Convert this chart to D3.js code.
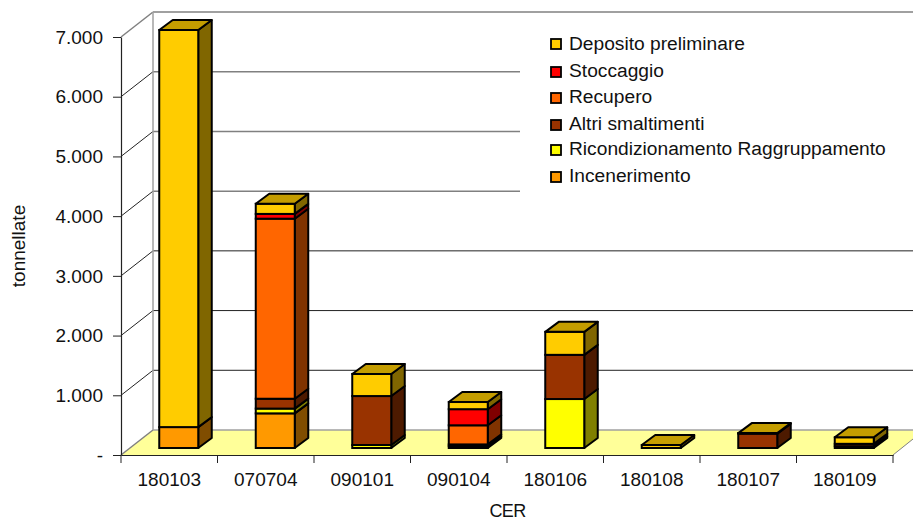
<!DOCTYPE html>
<html><head><meta charset="utf-8">
<script src="https://cdn.jsdelivr.net/npm/d3@7"></script>
<style>html,body{margin:0;padding:0;background:#fff}svg{display:block}text{font-family:"Liberation Sans",Arial,sans-serif;fill:#111}</style>
</head><body><svg id="c" width="913" height="521"></svg>
<script>
const categories = ["180103","070704","090101","090104","180106","180108","180107","180109"];
const seriesNames = ["Incenerimento","Ricondizionamento Raggruppamento","Altri smaltimenti","Recupero","Stoccaggio","Deposito preliminare"];
const incenerimento = [350,580,0,30,0,0,0,30];
const ricondizionamento = [0,80,50,0,820,0,0,0];
const altri = [0,165,820,30,740,0,240,40];
const recupero = [0,3015,0,320,0,0,0,0];
const stoccaggio = [0,80,0,270,0,0,0,0];
const deposito = [6650,170,370,120,385,50,10,110];
const seriesValues = [incenerimento,ricondizionamento,altri,recupero,stoccaggio,deposito];
const colors = ["#FF9900","#FFFF00","#993300","#FF6600","#FF0000","#FFCC00"];
const yTicks = [0,1000,2000,3000,4000,5000,6000,7000];
const legendOrder = [5,4,3,2,1,0];

const svg = d3.select("#c");
const x = d3.scaleBand().domain(categories).range([121,893]);
const y = d3.scaleLinear().domain([0,7000]).range([455,37]);
const wallDx = 32, wallDy = -25;
const barW = 39, barDx = 13.5, barDy = -10, offX = 9.5, offY = -7;
const fmt = v => v===0 ? "-" : d3.format(",")(v).replace(/,/g,".");
const shade = (c,k) => { const r=d3.rgb(c); return d3.rgb(r.r*k,r.g*k,r.b*k).formatHex(); };
const pts = a => a.map(p=>p.join(",")).join(" ");

// floor
svg.append("polygon").attr("points",pts([[121,y(0)],[121+wallDx,y(0)+wallDy],[913,y(0)+wallDy],[913,y(0)-16],[893,y(0)]])).attr("fill","#FFFF99");
// back wall + gridlines
svg.selectAll("line.g").data(yTicks.slice(1)).join("line").attr("class","g")
  .attr("x1",121+wallDx).attr("x2",913).attr("y1",d=>y(d)+wallDy).attr("y2",d=>y(d)+wallDy)
  .attr("stroke",d=>d>=4000?"#808080":"#222").attr("stroke-width",d=>d>=4000?1.5:1);
svg.selectAll("line.d").data(yTicks.slice(1,-1)).join("line").attr("class","d")
  .attr("x1",121).attr("x2",121+wallDx).attr("y1",d=>y(d)).attr("y2",d=>y(d)+wallDy).attr("stroke","#222");
svg.append("line").attr("x1",121).attr("y1",y(7000)).attr("x2",153).attr("y2",y(7000)+wallDy).attr("stroke","#808080").attr("stroke-width",1.5);
svg.append("line").attr("x1",121).attr("y1",y(0)).attr("x2",153).attr("y2",y(0)+wallDy).attr("stroke","#808080").attr("stroke-width",1.5);
svg.append("line").attr("x1",153).attr("y1",y(7000)+wallDy).attr("x2",153).attr("y2",y(0)+wallDy).attr("stroke","#a0a0a0").attr("stroke-width",1.5);
svg.append("line").attr("x1",153).attr("y1",y(0)+wallDy).attr("x2",913).attr("y2",y(0)+wallDy).attr("stroke","#a0a0a0").attr("stroke-width",1.5);
svg.append("line").attr("x1",893).attr("y1",y(0)).attr("x2",913).attr("y2",y(0)-16).attr("stroke","#808080");
// legend background hides gridlines
svg.append("rect").attr("x",520).attr("y",30).attr("width",393).attr("height",165).attr("fill","#fff");

// axes
const yAxis = d3.axisLeft(y).tickValues(yTicks).tickFormat(fmt).tickSize(8).tickSizeOuter(0);
const gy = svg.append("g").attr("transform","translate(121,0)").call(yAxis);
gy.selectAll("text").attr("font-size",19).attr("x",-18).attr("dy","0.33em");
const xAxis = d3.axisBottom(x).tickSize(8).tickSizeOuter(0).tickFormat(d=>d);
const gx = svg.append("g").attr("transform","translate(0,455)").call(xAxis);
gx.selectAll(".tick line").remove();
gx.selectAll(".tick text").attr("font-size",19).attr("y",31).attr("dy","0");
gx.selectAll("line.t").data(d3.range(categories.length+1)).join("line").attr("class","t")
  .attr("x1",i=>121+i*x.step()).attr("x2",i=>121+i*x.step()).attr("y1",0).attr("y2",8).attr("stroke","#222");
svg.selectAll(".domain").attr("stroke","#222").attr("stroke-width",1.2);
gy.selectAll("line").attr("stroke","#222");

// bars
categories.forEach((c,i)=>{
  const x0 = x(c)+x.bandwidth()/2-barW/2+offX, x1 = x0+barW;
  let acc = 0, topSeg = -1;
  seriesValues.forEach((s,j)=>{ if(s[i]>0) topSeg=j; });
  const g = svg.append("g");
  seriesValues.forEach((s,j)=>{
    const v = s[i]; if(!(v>0)) return;
    const yb = y(acc)+offY, yt = y(acc+v)+offY; acc += v;
    g.append("polygon").attr("points",pts([[x1,yb],[x1+barDx,yb+barDy],[x1+barDx,yt+barDy],[x1,yt]]))
      .attr("fill",shade(colors[j],0.5)).attr("stroke","#000").attr("stroke-width",2).attr("stroke-linejoin","round");
    g.append("rect").attr("x",x0).attr("y",yt).attr("width",barW).attr("height",yb-yt)
      .attr("fill",colors[j]).attr("stroke","#000").attr("stroke-width",2);
    if(j===topSeg) g.append("polygon").attr("points",pts([[x0,yt],[x1,yt],[x1+barDx,yt+barDy],[x0+barDx,yt+barDy]]))
      .attr("fill",shade(colors[j],0.77)).attr("stroke","#000").attr("stroke-width",2).attr("stroke-linejoin","round");
  });
});

// legend
const swatchY = [44,72,98,125,150,177];
const labelY = [50,77,103,130,155,182];
legendOrder.forEach((k,i)=>{
  svg.append("rect").attr("x",551).attr("y",swatchY[i]-5).attr("width",10).attr("height",10)
    .attr("fill",colors[k]).attr("stroke","#000").attr("stroke-width",1.8);
  svg.append("text").attr("x",569).attr("y",labelY[i]).attr("font-size",19.2).text(seriesNames[k]);
});

// titles
svg.append("text").attr("transform","translate(25,246) rotate(-90)").attr("text-anchor","middle").attr("font-size",19).text("tonnellate");
svg.append("text").attr("x",507.5).attr("y",516.5).attr("text-anchor","middle").attr("font-size",18).attr("letter-spacing","-0.6").text("CER");
</script></body></html>
